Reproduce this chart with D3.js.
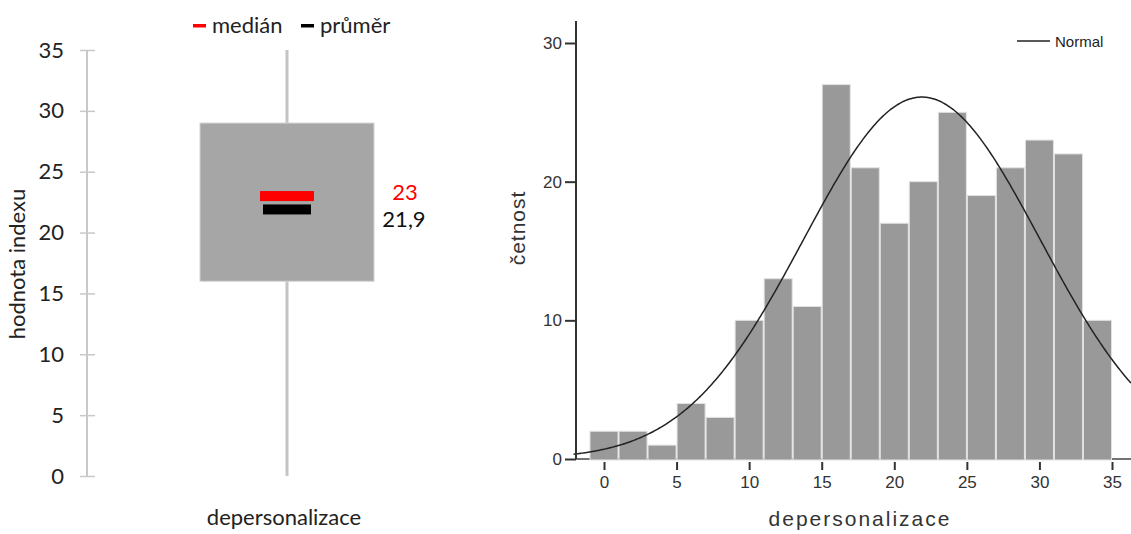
<!DOCTYPE html>
<html>
<head>
<meta charset="utf-8">
<script src="https://cdn.jsdelivr.net/npm/d3@7"></script>
<style>
  body { margin: 0; background: #fff; }
  svg { display: block; }
</style>
</head>
<body>
<div id="chart"></div>
<script>
// box plot summary (depersonalizace)
var boxStats = { min: 0, q1: 16, median: 23, q3: 29, max: 35, mean: 21.9 };
var boxTicks = [0, 5, 10, 15, 20, 25, 30, 35];

// histogram: bin centres and counts (bin width 2)
var binCentres = [0, 2, 4, 6, 8, 10, 12, 14, 16, 18, 20, 22, 24, 26, 28, 30, 32, 34];
var binCounts  = [2, 2, 1, 4, 3, 10, 13, 11, 27, 21, 17, 20, 25, 19, 21, 23, 22, 10];
var binWidth = 2;
var histXTicks = [0, 5, 10, 15, 20, 25, 30, 35];
var histYTicks = [0, 10, 20, 30];

// fitted normal curve
var normalMean = 21.9;
var normalSd = 8.15;
var normalPeak = 26.1;

var W = 1131, H = 534;

var svg = d3.select("#chart").append("svg")
    .attr("width", W)
    .attr("height", H);

/* ---------------- left: box plot ---------------- */
var leftFont = "Lato, 'Open Sans', sans-serif";
var yL = d3.scaleLinear().domain([0, 35]).range([476, 50]);
var boxX = d3.scaleBand().domain(["depersonalizace"]).range([113, 461])
    .paddingInner(0).paddingOuter(0.5);
var cx = boxX("depersonalizace") + boxX.bandwidth() / 2;

var gL = svg.append("g");

var yAxisL = gL.append("g")
    .attr("transform", "translate(87,0)")
    .call(d3.axisLeft(yL).tickValues(boxTicks).tickSize(7).tickPadding(16));
yAxisL.select(".domain").remove();
yAxisL.selectAll(".tick line").attr("x2", 8).attr("x1", -7)
    .attr("stroke", "#c8c8c8").attr("stroke-width", 1.5);
yAxisL.selectAll("text")
    .attr("font-family", leftFont).attr("font-size", "22px").attr("fill", "#222");
gL.append("line")
    .attr("x1", 87).attr("x2", 87)
    .attr("y1", yL(35)).attr("y2", yL(0))
    .attr("stroke", "#c8c8c8").attr("stroke-width", 2);

gL.append("text")
    .attr("transform", "translate(25," + (yL(17.5) + 1) + ") rotate(-90)")
    .attr("text-anchor", "middle")
    .attr("font-family", leftFont).attr("font-size", "22px").attr("fill", "#222")
    .text("hodnota indexu");

// whisker
gL.append("line")
    .attr("x1", cx).attr("x2", cx)
    .attr("y1", yL(boxStats.max)).attr("y2", yL(boxStats.min))
    .attr("stroke", "#c4c4c4").attr("stroke-width", 3);

// box
gL.append("rect")
    .attr("x", boxX("depersonalizace"))
    .attr("y", yL(boxStats.q3))
    .attr("width", boxX.bandwidth())
    .attr("height", yL(boxStats.q1) - yL(boxStats.q3))
    .attr("fill", "#a6a6a6")
    .attr("stroke", "#d4d4d4").attr("stroke-width", 1);

// median and mean marks
gL.append("rect")
    .attr("x", cx - 27).attr("width", 54)
    .attr("y", yL(boxStats.median) - 5).attr("height", 10)
    .attr("fill", "#ff0000");
gL.append("rect")
    .attr("x", cx - 24).attr("width", 48)
    .attr("y", yL(boxStats.mean) - 5).attr("height", 10)
    .attr("fill", "#000");

gL.append("text")
    .attr("x", 405).attr("y", yL(boxStats.median) + 4)
    .attr("text-anchor", "middle")
    .attr("font-family", leftFont).attr("font-size", "22px").attr("fill", "#ff0000")
    .text(String(boxStats.median));
gL.append("text")
    .attr("x", 404).attr("y", yL(boxStats.mean) + 18)
    .attr("text-anchor", "middle")
    .attr("font-family", leftFont).attr("font-size", "22px").attr("fill", "#111")
    .text(String(boxStats.mean).replace(".", ","));

// category label
gL.append("text")
    .attr("x", cx - 3).attr("y", 525)
    .attr("text-anchor", "middle")
    .attr("font-family", leftFont).attr("font-size", "22px").attr("fill", "#222")
    .text("depersonalizace");

// legend
var legL = [{ name: "medián", color: "#ff0000", x: 193 }, { name: "průměr", color: "#000", x: 301 }];
legL.forEach(function (d) {
    gL.append("rect").attr("x", d.x).attr("y", 24).attr("width", 13).attr("height", 3.5).attr("fill", d.color);
    gL.append("text").attr("x", d.x + 19).attr("y", 33)
        .attr("font-family", leftFont).attr("font-size", "22px").attr("fill", "#222")
        .text(d.name);
});

/* ---------------- right: histogram ---------------- */
var rightFont = "'Liberation Sans', Arial, sans-serif";
var xR = d3.scaleLinear().domain([0, 35]).range([604, 1112]);
var yR = d3.scaleLinear().domain([0, 30]).range([459, 43]);
var gR = svg.append("g");

// x axis base line
gR.append("line")
    .attr("x1", 576).attr("x2", W)
    .attr("y1", yR(0)).attr("y2", yR(0))
    .attr("stroke", "#444").attr("stroke-width", 1.5);

// bars
gR.selectAll("rect.bar")
    .data(binCentres)
    .enter().append("rect")
    .attr("class", "bar")
    .attr("x", function (d) { return xR(d - binWidth / 2) + 0.5; })
    .attr("width", function (d) { return xR(d + binWidth / 2) - xR(d - binWidth / 2) - 1; })
    .attr("y", function (d, i) { return yR(binCounts[i]); })
    .attr("height", function (d, i) { return yR(0) - yR(binCounts[i]) + 1; })
    .attr("fill", "#999999")
    .attr("stroke", "#e2e2e2").attr("stroke-width", 1);

// normal curve
var curveX = d3.range(-2.1, 36.4, 0.1);
var line = d3.line()
    .x(function (d) { return xR(d); })
    .y(function (d) {
        var z = (d - normalMean) / normalSd;
        return yR(normalPeak * Math.exp(-0.5 * z * z));
    })
    .curve(d3.curveBasis);
gR.append("path")
    .datum(curveX)
    .attr("d", line)
    .attr("fill", "none")
    .attr("stroke", "#222").attr("stroke-width", 1.5);

// y axis
var yAxisR = gR.append("g")
    .attr("transform", "translate(576,0)")
    .call(d3.axisLeft(yR).tickValues(histYTicks).tickSize(11).tickPadding(3));
yAxisR.select(".domain").remove();
yAxisR.selectAll(".tick line").attr("stroke", "#333").attr("stroke-width", 2);
yAxisR.selectAll("text")
    .attr("font-family", rightFont).attr("font-size", "17px").attr("fill", "#333");
gR.append("line")
    .attr("x1", 576).attr("x2", 576)
    .attr("y1", 21).attr("y2", yR(0))
    .attr("stroke", "#333").attr("stroke-width", 2);

// x axis ticks
var xAxisR = gR.append("g")
    .attr("transform", "translate(0,462)")
    .call(d3.axisBottom(xR).tickValues(histXTicks).tickSize(8).tickPadding(6));
xAxisR.select(".domain").remove();
xAxisR.selectAll(".tick line").attr("stroke", "#333").attr("stroke-width", 2);
xAxisR.selectAll("text")
    .attr("font-family", rightFont).attr("font-size", "17px").attr("fill", "#333");

// titles
gR.append("text")
    .attr("x", 860).attr("y", 526)
    .attr("text-anchor", "middle")
    .attr("font-family", rightFont).attr("font-size", "21px").attr("fill", "#333")
    .attr("letter-spacing", "2px")
    .text("depersonalizace");
gR.append("text")
    .attr("transform", "translate(525,228) rotate(-90)")
    .attr("text-anchor", "middle")
    .attr("font-family", rightFont).attr("font-size", "21px").attr("fill", "#333")
    .attr("letter-spacing", "1px")
    .text("četnost");

// legend
gR.append("line")
    .attr("x1", 1017).attr("x2", 1050).attr("y1", 41).attr("y2", 41)
    .attr("stroke", "#222").attr("stroke-width", 1.5);
gR.append("text")
    .attr("x", 1055).attr("y", 47)
    .attr("font-family", rightFont).attr("font-size", "15px").attr("fill", "#222")
    .text("Normal");
</script>
</body>
</html>
